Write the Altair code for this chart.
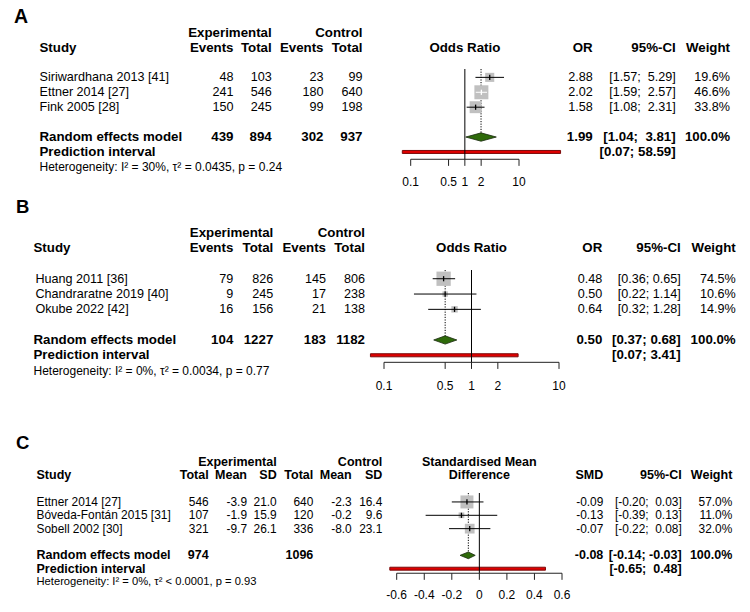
import math
import altair as alt
import pandas as pd

# ---------------- A: binary outcome, odds ratios ----------------
a_studies = ["Siriwardhana 2013 [41]", "Ettner 2014 [27]", "Fink 2005 [28]"]
a_exp_events = [48, 241, 150]
a_exp_total = [103, 546, 245]
a_ctl_events = [23, 180, 99]
a_ctl_total = [99, 640, 198]
a_or = [2.88, 2.02, 1.58]
a_or_lo = [1.57, 1.59, 1.08]
a_or_hi = [5.29, 2.57, 2.31]
a_weight = [19.6, 46.6, 33.8]
a_pooled = [1.99, 1.04, 3.81]          # estimate, lower, upper
a_prediction = [0.07, 58.59]
a_pooled_counts = [439, 894, 302, 937]
a_het = "Heterogeneity: I² = 30%, τ² = 0.0435, p = 0.24"

# ---------------- B: binary outcome, odds ratios ----------------
b_studies = ["Huang 2011 [36]", "Chandraratne 2019 [40]", "Okube 2022 [42]"]
b_exp_events = [79, 9, 16]
b_exp_total = [826, 245, 156]
b_ctl_events = [145, 17, 21]
b_ctl_total = [806, 238, 138]
b_or = [0.48, 0.50, 0.64]
b_or_lo = [0.36, 0.22, 0.32]
b_or_hi = [0.65, 1.14, 1.28]
b_weight = [74.5, 10.6, 14.9]
b_pooled = [0.50, 0.37, 0.68]
b_prediction = [0.07, 3.41]
b_pooled_counts = [104, 1227, 183, 1182]
b_het = "Heterogeneity: I² = 0%, τ² = 0.0034, p = 0.77"

# ---------------- C: continuous outcome, standardised mean difference ----------------
c_studies = ["Ettner 2014 [27]", "Bóveda-Fontán 2015 [31]", "Sobell 2002 [30]"]
c_exp_total = [546, 107, 321]
c_exp_mean = [-3.9, -1.9, -9.7]
c_exp_sd = [21.0, 15.9, 26.1]
c_ctl_total = [640, 120, 336]
c_ctl_mean = [-2.3, -0.2, -8.0]
c_ctl_sd = [16.4, 9.6, 23.1]
c_smd = [-0.09, -0.13, -0.07]
c_smd_lo = [-0.20, -0.39, -0.22]
c_smd_hi = [0.03, 0.13, 0.08]
c_weight = [57.0, 11.0, 32.0]
c_pooled = [-0.08, -0.14, -0.03]
c_prediction = [-0.65, 0.48]
c_pooled_n = [974, 1096]
c_het = "Heterogeneity: I² = 0%, τ² < 0.0001, p = 0.93"

FONT = "Liberation Sans"
NB = "\u00a0"


def fmt1(v):
    return f"{v:.1f}"


def fmt2(v):
    return f"{v:.2f}"


def ci_labels(pairs):
    """Confidence intervals padded so the bounds line up, as in meta's forest()."""
    lo = [fmt2(a) for a, _ in pairs]
    hi = [fmt2(b) for _, b in pairs]
    wl = max(len(s) for s in lo)
    wh = max(len(s) for s in hi)
    return [f"[{NB * (wl - len(l))}{l}; {NB * (wh - len(h))}{h}]" for l, h in zip(lo, hi)]


panels = [
    dict(letter="A", studies=a_studies,
         left_cols=[("Events", [str(v) for v in a_exp_events], a_pooled_counts[0]),
                    ("Total", [str(v) for v in a_exp_total], a_pooled_counts[1]),
                    ("Events", [str(v) for v in a_ctl_events], a_pooled_counts[2]),
                    ("Total", [str(v) for v in a_ctl_total], a_pooled_counts[3])],
         est=a_or, lo=a_or_lo, hi=a_or_hi, weight=a_weight,
         pooled=a_pooled, pred=a_prediction, het=a_het,
         effect="OR", title=["Odds Ratio"], ticks=[0.1, 0.5, 1, 2, 10]),
    dict(letter="B", studies=b_studies,
         left_cols=[("Events", [str(v) for v in b_exp_events], b_pooled_counts[0]),
                    ("Total", [str(v) for v in b_exp_total], b_pooled_counts[1]),
                    ("Events", [str(v) for v in b_ctl_events], b_pooled_counts[2]),
                    ("Total", [str(v) for v in b_ctl_total], b_pooled_counts[3])],
         est=b_or, lo=b_or_lo, hi=b_or_hi, weight=b_weight,
         pooled=b_pooled, pred=b_prediction, het=b_het,
         effect="OR", title=["Odds Ratio"], ticks=[0.1, 0.5, 1, 2, 10]),
    dict(letter="C", studies=c_studies,
         left_cols=[("Total", [str(v) for v in c_exp_total], c_pooled_n[0]),
                    ("Mean", [fmt1(v) for v in c_exp_mean], None),
                    ("SD", [fmt1(v) for v in c_exp_sd], None),
                    ("Total", [str(v) for v in c_ctl_total], c_pooled_n[1]),
                    ("Mean", [fmt1(v) for v in c_ctl_mean], None),
                    ("SD", [fmt1(v) for v in c_ctl_sd], None)],
         est=c_smd, lo=c_smd_lo, hi=c_smd_hi, weight=c_weight,
         pooled=c_pooled, pred=c_prediction, het=c_het,
         effect="SMD", title=["Standardised Mean", "Difference"],
         ticks=[-0.6, -0.4, -0.2, 0, 0.2, 0.4, 0.6]),
]

# page layout of each panel (pixels)
layouts = [
    dict(height=192, y0=32.6, step=14.92, letter_xy=(14, 17), letter_size=19.5,
         left=39.5, name_left=39.5, cols=[233.5, 271.7, 323.5, 362.5], groups=[1, 3],
         xtype="log", xdomain=[0.1, 10], xrange=[410.7, 519.0], ref=1,
         right=[592.7, 675.7, 730.0], axis_row=8.49, ref_top=2.44,
         diamond_h=0.28, bar_h=0.1, side_max=14.0, reg=12.6, bold=13.3, het=12.0),
    dict(height=203, y0=232.8 - 192, step=15.31, letter_xy=(16, 15), letter_size=18.5,
         left=33.5, name_left=35.5, cols=[233.3, 273.3, 326.0, 365.0], groups=[1, 3],
         xtype="log", xdomain=[0.1, 10], xrange=[384.0, 559.0], ref=1,
         right=[602.3, 680.7, 735.7], axis_row=8.46, ref_top=2.43,
         diamond_h=0.27, bar_h=0.1, side_max=14.3, reg=12.6, bold=13.3, het=12.0),
    dict(height=217, y0=461.9 - 395, step=13.35, letter_xy=(16, 48), letter_size=18.5,
         left=36.5, name_left=36.5, cols=[208.7, 247.0, 276.7, 313.3, 351.7, 382.3], groups=[2, 5],
         xtype="linear", xdomain=[-0.6, 0.6], xrange=[396.7, 562.0], ref=0,
         right=[603.3, 681.7, 732.3], axis_row=8.34, ref_top=2.33,
         diamond_h=0.25, bar_h=0.11, side_max=13.0, reg=11.9, bold=12.5, het=11.2),
]


def build(p, L):
    ys = alt.Scale(domain=[0, 10], range=[L["y0"], L["y0"] + 10 * L["step"]], nice=False, zero=False)
    xs = alt.Scale(type=L["xtype"], domain=L["xdomain"], range=L["xrange"], nice=False, zero=False)

    def X(f):
        return alt.X(f"{f}:Q", scale=xs, axis=None)

    def Y(f="row"):
        return alt.Y(f"{f}:Q", scale=ys, axis=None)

    rows = [3, 4, 5]
    d0, d1 = L["xdomain"]
    r0, r1 = L["xrange"]

    def to_px(v):
        if L["xtype"] == "log":
            t = (math.log10(v) - math.log10(d0)) / (math.log10(d1) - math.log10(d0))
        else:
            t = (v - d0) / (d1 - d0)
        return r0 + t * (r1 - r0)

    # ---- text table ----
    texts = []

    def put(text, row, x, align="right", bold=False, size=None):
        texts.append(dict(text=text, row=row, x=float(x), align=align, bold=bold,
                          size=size or (L["bold"] if bold else L["reg"])))

    put("Study", 1, L["left"], "left", True)
    for r, name in zip(rows, p["studies"]):
        put(name, r, L["name_left"], "left")
    put("Random effects model", 7, L["left"], "left", True)
    put("Prediction interval", 8, L["left"], "left", True)
    put(p["het"], 9, L["left"], "left", size=L["het"])
    for (head, vals, pooled_val), cx in zip(p["left_cols"], L["cols"]):
        put(head, 1, cx, bold=True)
        for r, v in zip(rows, vals):
            put(v, r, cx)
        if pooled_val is not None:
            put(str(pooled_val), 7, cx, bold=True)
    put("Experimental", 0, L["cols"][L["groups"][0]], bold=True)
    put("Control", 0, L["cols"][L["groups"][1]], bold=True)

    rx = L["right"]
    put(p["effect"], 1, rx[0], bold=True)
    put("95%-CI", 1, rx[1], bold=True)
    put("Weight", 1, rx[2], bold=True)
    cis = ci_labels(list(zip(p["lo"], p["hi"])) + [(p["pooled"][1], p["pooled"][2]), tuple(p["pred"])])
    for i, r in enumerate(rows):
        put(fmt2(p["est"][i]), r, rx[0])
        put(cis[i], r, rx[1])
        put(f"{p['weight'][i]:.1f}%", r, rx[2])
    put(fmt2(p["pooled"][0]), 7, rx[0], bold=True)
    put(cis[3], 7, rx[1], bold=True)
    put(f"{sum(p['weight']):.1f}%", 7, rx[2], bold=True)
    put(cis[4], 8, rx[1], bold=True)

    tdf = pd.DataFrame(texts)
    text_layers = []
    for (x, align, bold, size), g in tdf.groupby(["x", "align", "bold", "size"]):
        text_layers.append(
            alt.Chart(g[["text", "row"]]).mark_text(
                align=align, baseline="middle", font=FONT, fontSize=float(size),
                fontWeight="bold" if bold else "normal", color="#000000"
            ).encode(x=alt.value(float(x)), y=Y(), text="text:N")
        )

    # ---- forest graphics ----
    sd = pd.DataFrame({"row": rows, "est": p["est"], "lo": p["lo"], "hi": p["hi"], "w": p["weight"]})
    wmax = max(p["weight"])
    # a CI that fits inside its square is drawn in white
    sd["line"] = ["white" if to_px(h) - to_px(l) < math.sqrt(w / wmax) * L["side_max"] else "black"
                  for l, h, w in zip(sd["lo"], sd["hi"], sd["w"])]
    tick_half = 2.6 / L["step"]
    sd["t0"] = sd["row"] - tick_half
    sd["t1"] = sd["row"] + tick_half

    est, lo, hi = p["pooled"]
    h = L["diamond_h"]
    diamond = pd.DataFrame({"x": [lo, est, hi], "y": [7, 7 - h, 7], "y2": [7, 7 + h, 7]})
    pred = pd.DataFrame({"lo": [p["pred"][0]], "hi": [p["pred"][1]],
                         "y": [8 - L["bar_h"]], "y2": [8 + L["bar_h"]]})
    ref = pd.DataFrame({"x": [L["ref"]], "y": [L["ref_top"]], "y2": [L["axis_row"]]})
    pooled_line = pd.DataFrame({"x": [est], "y": [L["ref_top"]], "y2": [7 - h]})
    axis_line = pd.DataFrame({"x": [d0], "x2": [d1], "y": [L["axis_row"]]})
    ticks = pd.DataFrame({"x": p["ticks"], "y": L["axis_row"], "y2": L["axis_row"] + 6.6 / L["step"]})
    tick_labels = pd.DataFrame({"x": p["ticks"], "row": 10, "text": [f"{t:g}" for t in p["ticks"]]})
    title = pd.DataFrame({"x": L["ref"], "row": list(range(2 - len(p["title"]), 2)), "text": p["title"]})

    layers = [
        alt.Chart(pred).mark_rect(fill="#e00000", stroke="#7a0a0a", strokeWidth=1).encode(
            x=X("lo"), x2="hi:Q", y=Y("y"), y2="y2:Q"),
        alt.Chart(ref).mark_rule(color="#000000", strokeWidth=1).encode(x=X("x"), y=Y("y"), y2="y2:Q"),
        alt.Chart(pooled_line).mark_rule(color="#000000", strokeWidth=1, strokeDash=[1.2, 1.4]).encode(
            x=X("x"), y=Y("y"), y2="y2:Q"),
        alt.Chart(sd).mark_point(shape="square", filled=True, color="#c0c0c0", opacity=1).encode(
            x=X("est"), y=Y(),
            size=alt.Size("w:Q", scale=alt.Scale(type="linear", domain=[0, wmax],
                                                 range=[0, L["side_max"] ** 2]), legend=None)),
        alt.Chart(sd).mark_rule(strokeWidth=1).encode(
            x=X("lo"), x2="hi:Q", y=Y(), color=alt.Color("line:N", scale=None)),
        alt.Chart(sd).mark_rule(strokeWidth=1.3).encode(
            x=X("est"), y=Y("t0"), y2="t1:Q", color=alt.Color("line:N", scale=None)),
        alt.Chart(diamond).mark_area(fill="#2e6a0a", stroke="#1a2a10", strokeWidth=0.8,
                                     fillOpacity=1, interpolate="linear").encode(
            x=X("x"), y=Y("y"), y2="y2:Q"),
        alt.Chart(axis_line).mark_rule(color="#222222", strokeWidth=1).encode(
            x=X("x"), x2="x2:Q", y=Y("y")),
        alt.Chart(ticks).mark_rule(color="#222222", strokeWidth=1).encode(
            x=X("x"), y=Y("y"), y2="y2:Q"),
        alt.Chart(tick_labels).mark_text(font=FONT, fontSize=12, baseline="middle", align="center",
                                        color="#000000").encode(x=X("x"), y=Y(), text="text:N"),
        alt.Chart(title).mark_text(font=FONT, fontSize=L["bold"], fontWeight="bold", baseline="middle",
                                  align="center", color="#000000").encode(x=X("x"), y=Y(), text="text:N"),
    ]

    letter = alt.Chart(pd.DataFrame({"t": [p["letter"]]})).mark_text(
        font=FONT, fontSize=L["letter_size"], fontWeight="bold", align="left", baseline="middle",
        color="#000000").encode(x=alt.value(L["letter_xy"][0]), y=alt.value(L["letter_xy"][1]), text="t:N")

    return alt.layer(*layers, *text_layers, letter).properties(width=750, height=L["height"])


chart = alt.vconcat(*[build(p, L) for p, L in zip(panels, layouts)], spacing=0).resolve_scale(
    x="independent", y="independent", size="independent", color="independent"
).properties(padding=0, background="white").configure_view(stroke=None)

chart.save("out.html", embed_options={"renderer": "svg", "actions": False})
